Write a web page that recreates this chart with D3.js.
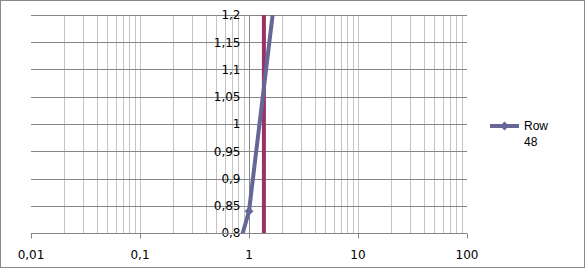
<!DOCTYPE html>
<html>
<head>
<style>
  body { margin: 0; background: #fff; }
  svg { display: block; }
</style>
</head>
<body>
<div id="viz"></div>
<script src="https://d3js.org/d3.v7.min.js"></script>
<script>
  // data
  const seriesName = "Row 48";
  const seriesX = [0.5, 1, 2];
  const seriesY = [0.63, 0.84, 1.34];
  const refLineX = [1.37];
  const xTicks = [0.01, 0.1, 1, 10, 100];
  const yTicks = [0.8, 0.85, 0.9, 0.95, 1, 1.05, 1.1, 1.15, 1.2];

  const width = 585, height = 268;
  const plot = { left: 31, right: 467, top: 15, bottom: 233 };

  const svg = d3.select("#viz").append("svg")
      .attr("width", width)
      .attr("height", height);

  // frame
  svg.append("rect")
      .attr("x", 0.5).attr("y", 0.5)
      .attr("width", width - 1).attr("height", height - 1)
      .attr("fill", "#fff").attr("stroke", "#888");

  const x = d3.scaleLog().domain([0.01, 100]).range([plot.left, plot.right]);
  const y = d3.scaleLinear().domain([0.8, 1.2]).range([plot.bottom, plot.top]);

  const fmt = d => String(+d.toFixed(2)).replace(".", ",");

  // minor vertical gridlines
  const minor = [];
  for (let p = -2; p < 2; p++) {
    for (let m = 1; m <= 9; m++) {
      const v = m * Math.pow(10, p);
      if (p === -2 && m === 1) continue;
      minor.push(v);
    }
  }
  svg.append("g").selectAll("line")
      .data(minor)
    .enter().append("line")
      .attr("x1", d => Math.round(x(d)) + 0.5)
      .attr("x2", d => Math.round(x(d)) + 0.5)
      .attr("y1", plot.top)
      .attr("y2", plot.bottom)
      .attr("stroke", "#c4c4c4");

  // horizontal gridlines
  svg.append("g").selectAll("line")
      .data(yTicks)
    .enter().append("line")
      .attr("x1", plot.left)
      .attr("x2", plot.right)
      .attr("y1", d => Math.round(y(d)) + 0.5)
      .attr("y2", d => Math.round(y(d)) + 0.5)
      .attr("stroke", "#868686");

  // y axis crosses at x = 1
  const yAxisX = Math.round(x(1)) + 0.5;
  svg.append("line")
      .attr("x1", yAxisX).attr("x2", yAxisX)
      .attr("y1", plot.top).attr("y2", plot.bottom)
      .attr("stroke", "#868686");

  svg.append("g").selectAll("text")
      .data(yTicks)
    .enter().append("text")
      .attr("x", yAxisX - 9)
      .attr("y", d => y(d))
      .attr("dy", "0.36em")
      .attr("text-anchor", "end")
      .attr("font-family", "DejaVu Sans")
      .attr("font-size", 12)
      .attr("fill", "#000")
      .text(fmt);

  // x axis
  const xAxisY = Math.round(y(0.8)) + 0.5;
  svg.append("line")
      .attr("x1", plot.left).attr("x2", plot.right)
      .attr("y1", xAxisY).attr("y2", xAxisY)
      .attr("stroke", "#868686");

  svg.append("g").selectAll("line")
      .data(xTicks)
    .enter().append("line")
      .attr("x1", d => Math.round(x(d)) + 0.5)
      .attr("x2", d => Math.round(x(d)) + 0.5)
      .attr("y1", xAxisY)
      .attr("y2", xAxisY + 5)
      .attr("stroke", "#868686");

  svg.append("g").selectAll("text")
      .data(xTicks)
    .enter().append("text")
      .attr("x", d => x(d))
      .attr("y", xAxisY + 21)
      .attr("dy", "0.36em")
      .attr("text-anchor", "middle")
      .attr("font-family", "DejaVu Sans")
      .attr("font-size", 12)
      .attr("fill", "#000")
      .text(fmt);

  // clip to plot area
  svg.append("clipPath").attr("id", "clip")
    .append("rect")
      .attr("x", plot.left).attr("y", plot.top)
      .attr("width", plot.right - plot.left)
      .attr("height", plot.bottom - plot.top);

  const g = svg.append("g").attr("clip-path", "url(#clip)");

  // reference line
  g.selectAll(".ref")
      .data(refLineX)
    .enter().append("line")
      .attr("class", "ref")
      .attr("x1", d => x(d)).attr("x2", d => x(d))
      .attr("y1", plot.top).attr("y2", plot.bottom)
      .attr("stroke", "#993366")
      .attr("stroke-width", 4);

  // series
  const pts = seriesX.map((v, i) => [v, seriesY[i]]);
  const lineColor = "#666699";
  g.append("path")
      .datum(pts)
      .attr("d", d3.line().x(d => x(d[0])).y(d => y(d[1])))
      .attr("fill", "none")
      .attr("stroke", lineColor)
      .attr("stroke-width", 4)
      .attr("stroke-linejoin", "round");

  const diamond = d3.symbol().type(d3.symbolDiamond2).size(50);
  g.selectAll(".pt")
      .data(pts)
    .enter().append("path")
      .attr("class", "pt")
      .attr("transform", d => `translate(${x(d[0])},${y(d[1])})`)
      .attr("d", diamond)
      .attr("fill", lineColor);

  // legend
  const lg = svg.append("g").attr("transform", "translate(490,126)");
  lg.append("line")
      .attr("x1", 0).attr("x2", 29)
      .attr("stroke", lineColor).attr("stroke-width", 4);
  lg.append("path")
      .attr("transform", "translate(14.5,0)")
      .attr("d", diamond)
      .attr("fill", lineColor);
  lg.append("text")
      .attr("font-family", "Liberation Sans")
      .attr("font-size", 12)
      .attr("fill", "#000")
      .selectAll("tspan")
      .data(seriesName.split(" "))
    .enter().append("tspan")
      .attr("x", 34)
      .attr("y", (d, i) => i * 16)
      .attr("dy", "0.36em")
      .text(d => d);
</script>
</body>
</html>
